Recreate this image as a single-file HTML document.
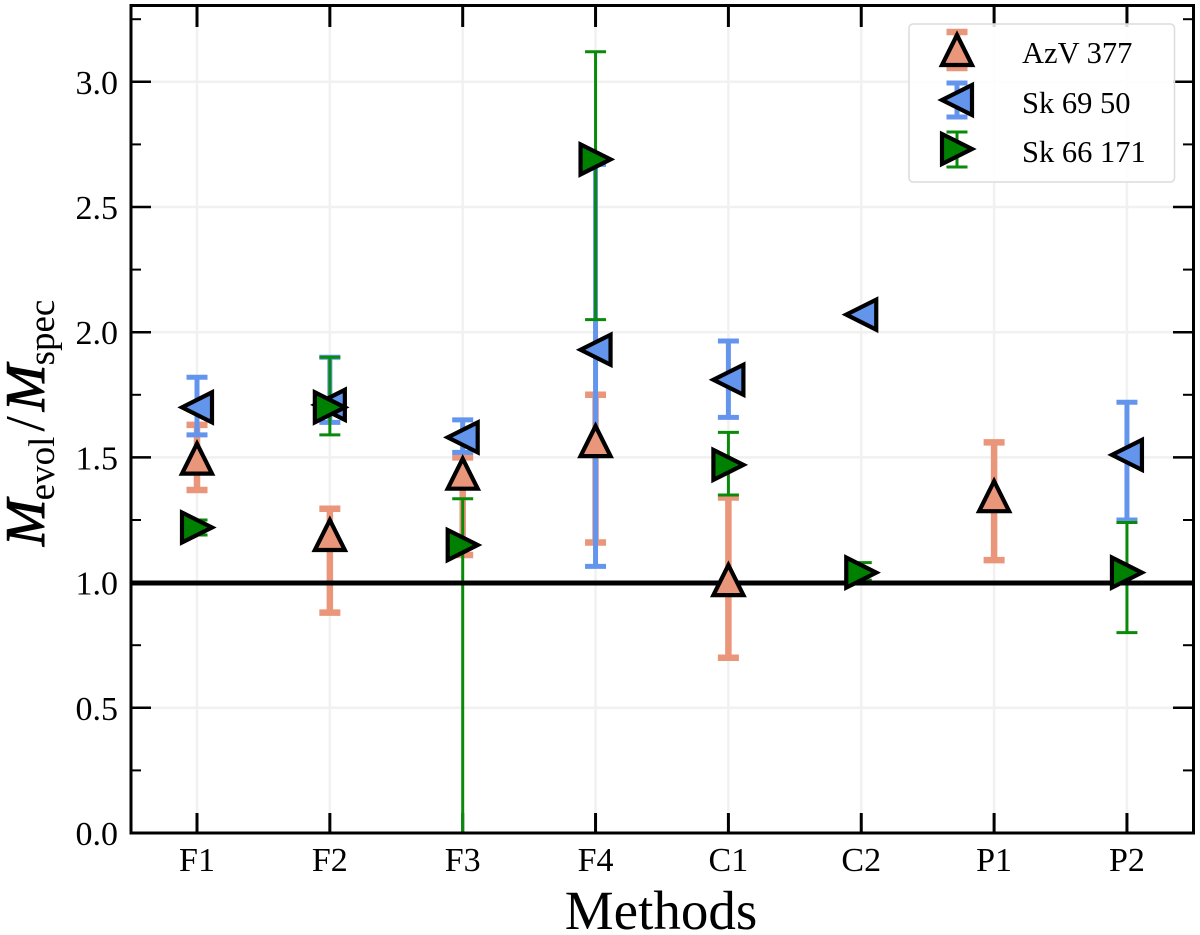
<!DOCTYPE html>
<html lang="en">
<head>
<meta charset="utf-8">
<title>Mevol / Mspec by method</title>
<style>
html,body{margin:0;padding:0;background:#fff;width:1200px;height:935px;overflow:hidden}
svg{display:block;font-family:"Liberation Serif",serif;fill:#000}
</style>
</head>
<body>
<svg id="chart" width="1200" height="935" viewBox="0 0 1200 935" xmlns="http://www.w3.org/2000/svg">
  <defs><clipPath id="plot-clip"><rect x="131" y="5.5" width="1062.5" height="827.5"/></clipPath></defs>
  <rect x="0" y="0" width="1200" height="935" fill="#fff"/>
  <g id="grid"></g>
  <g id="ticks"></g>
  <g id="bars" clip-path="url(#plot-clip)"></g>
  <line x1="131" x2="1193.5" y1="583" y2="583" stroke="#000" stroke-width="5"/>
  <g id="marks"></g>
  <rect x="131" y="5.5" width="1062.5" height="827.5" fill="none" stroke="#000" stroke-width="3"/>
  <g id="tick-labels" font-size="34"></g>
  <text x="661" y="929" font-size="55" text-anchor="middle">Methods</text>
  <text transform="translate(44,546) rotate(-90)" font-size="56"><tspan font-style="italic" stroke="#000" stroke-width="1">M</tspan><tspan font-size="37" dy="10" dx="-1">evol</tspan><tspan dy="-10" dx="5">/</tspan><tspan font-style="italic" stroke="#000" stroke-width="1" dx="5">M</tspan><tspan font-size="37" dy="10" dx="-1">spec</tspan></text>
  <g id="legend">
    <rect x="909" y="24" width="265.5" height="158" rx="4" fill="#fff" fill-opacity="0.85" stroke="#dcdcdc" stroke-width="1.5"/>
    <g id="legend-keys"></g>
    <text x="1022" y="63" font-size="30.5">AzV 377</text>
    <text x="1022" y="113" font-size="30.5">Sk 69 50</text>
    <text x="1022" y="162" font-size="30.5">Sk 66 171</text>
  </g>
</svg>
<script>
const categories = ['F1','F2','F3','F4','C1','C2','P1','P2'];
const yTickLabels = ['0.0','0.5','1.0','1.5','2.0','2.5','3.0'];
const yMinorTicks = [0.25,0.75,1.25,1.75,2.25,2.75,3.25];

const azvValues = [1.495,1.19,1.435,1.565,1.01,null,1.345,null];
const azvUpper  = [1.63,1.295,1.50,1.75,1.34,null,1.56,null];
const azvLower  = [1.37,0.88,1.11,1.16,0.70,null,1.09,null];

const sk69Values = [1.70,1.71,1.58,1.93,1.81,2.07,null,1.51];
const sk69Upper  = [1.82,1.90,1.65,2.67,1.965,null,null,1.72];
const sk69Lower  = [1.59,1.64,1.52,1.065,1.66,null,null,1.25];

const sk66Values = [1.22,1.70,1.15,2.69,1.47,1.04,null,1.04];
const sk66Upper  = [1.25,1.90,1.335,3.12,1.60,1.08,null,1.24];
const sk66Lower  = [1.19,1.59,0,2.05,1.35,1.01,null,0.80];

const NS = 'http://www.w3.org/2000/svg';
const xOf = i => 197 + i * 132.85;
const yOf = v => 833 - v * 250.4;

function shape(tag, parent, props) {
  const el = document.createElementNS(NS, tag);
  for (const k in props) el.setAttribute(k, props[k]);
  parent.appendChild(el);
  return el;
}
function triangle(parent, cx, cy, dir, fill) {
  const r = 15;
  const pts = dir === 'up'
    ? [[cx, cy - r], [cx - r, cy + r], [cx + r, cy + r]]
    : dir === 'left'
    ? [[cx - r, cy], [cx + r, cy - r], [cx + r, cy + r]]
    : [[cx + r, cy], [cx - r, cy - r], [cx - r, cy + r]];
  return shape('polygon', parent, {
    points: pts.map(p => p.join(',')).join(' '),
    fill: fill, stroke: '#000', 'stroke-width': 4.2, 'stroke-linejoin': 'miter', 'stroke-miterlimit': 10
  });
}
function errorBar(parent, x, yHi, yLo, color, lw, capw) {
  const g = shape('g', parent, {stroke: color});
  shape('line', g, {x1: x, x2: x, y1: yHi, y2: yLo, 'stroke-width': lw});
  shape('line', g, {x1: x - 10.5, x2: x + 10.5, y1: yHi, y2: yHi, 'stroke-width': capw});
  shape('line', g, {x1: x - 10.5, x2: x + 10.5, y1: yLo, y2: yLo, 'stroke-width': capw});
  return g;
}

const gridG = document.getElementById('grid');
const ticksG = document.getElementById('ticks');
const labelsG = document.getElementById('tick-labels');
const barsG = document.getElementById('bars');
const marksG = document.getElementById('marks');
const legendG = document.getElementById('legend-keys');

categories.forEach((c, i) => {
  const x = xOf(i);
  const gl = shape('line', gridG, {x1: x, x2: x, y1: 6, y2: 833, stroke: '#f1f1f1', 'stroke-width': 2.5});
  
  
  const t1 = shape('line', ticksG, {x1: x, x2: x, y1: 833, y2: 813, stroke: '#000', 'stroke-width': 3});
  
  
  const t2 = shape('line', ticksG, {x1: x, x2: x, y1: 6, y2: 27, stroke: '#000', 'stroke-width': 3});
  
  
  const lab = shape('text', labelsG, {x: x, y: 871, 'text-anchor': 'middle'});
  lab.textContent = c;
  
  
});

yTickLabels.forEach(s => {
  const y = yOf(parseFloat(s));
  const gl = shape('line', gridG, {x1: 131, x2: 1193, y1: y, y2: y, stroke: '#f1f1f1', 'stroke-width': 2.5});
  
  
  const t1 = shape('line', ticksG, {x1: 131, x2: 151, y1: y, y2: y, stroke: '#000', 'stroke-width': 2.5});
  
  
  const t2 = shape('line', ticksG, {x1: 1173, x2: 1193, y1: y, y2: y, stroke: '#000', 'stroke-width': 2.5});
  
  
  const lab = shape('text', labelsG, {x: 118, y: y + 12, 'text-anchor': 'end'});
  lab.textContent = s;
  
  
});

yMinorTicks.forEach(v => {
  const y = yOf(v);
  const t1 = shape('line', ticksG, {x1: 131, x2: 141, y1: y, y2: y, stroke: '#000', 'stroke-width': 2});
  
  
  const t2 = shape('line', ticksG, {x1: 1183, x2: 1193, y1: y, y2: y, stroke: '#000', 'stroke-width': 2});
  
  
});

function drawBars(vals, up, low, color, lw, capw, seriesName) {
  vals.forEach((v, i) => {
    if (v === null || up[i] === null) return;
    const b = errorBar(barsG, xOf(i), yOf(up[i]), yOf(low[i]), color, lw, capw);
    
    
  });
}
function drawMarks(vals, dir, color, seriesName) {
  vals.forEach((v, i) => {
    if (v === null) return;
    const m = triangle(marksG, xOf(i), yOf(v), dir, color);
    
    
  });
}

drawBars(azvValues, azvUpper, azvLower, '#e9967a', 6.5, 6.5, 'azv-377');
drawBars(sk69Values, sk69Upper, sk69Lower, '#6495ed', 5, 5, 'sk-69-50');
drawBars(sk66Values, sk66Upper, sk66Lower, '#0a8a0a', 3, 3, 'sk-66-171');
drawMarks(azvValues, 'up', '#e9967a', 'azv-377');
drawMarks(sk69Values, 'left', '#6495ed', 'sk-69-50');
drawMarks(sk66Values, 'right', '#008000', 'sk-66-171');

const k1 = errorBar(legendG, 957, 32, 68, '#e9967a', 6.5, 6.5);


const k2 = errorBar(legendG, 957, 83, 117, '#6495ed', 5, 5);


const k3 = errorBar(legendG, 957, 132, 167, '#0a8a0a', 3, 3);


const m1 = triangle(legendG, 957, 50, 'up', '#e9967a');


const m2 = triangle(legendG, 957, 100, 'left', '#6495ed');


const m3 = triangle(legendG, 957, 149, 'right', '#008000');


</script>
</body>
</html>
